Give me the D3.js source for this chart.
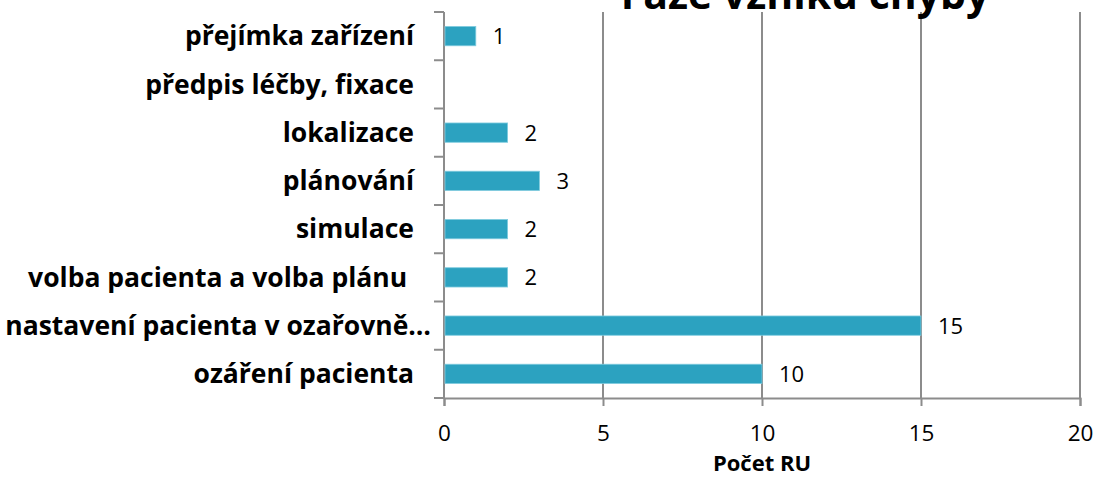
<!DOCTYPE html>
<html>
<head>
<meta charset="utf-8">
<script src="https://cdn.jsdelivr.net/npm/d3@7"></script>
<style>
  body { margin: 0; background: #fff; }
  svg { display: block; }
  .cat { font-family: "Open Sans", sans-serif; font-weight: bold; font-size: 26.5px; fill: #000; }
  .val { font-family: "Open Sans", sans-serif; font-size: 22px; fill: #000; }
  .tick text { font-family: "Open Sans", sans-serif; font-size: 22.5px; fill: #000; }
</style>
</head>
<body>
<div class="chart"></div>
<script>
(function () {

  var CATEGORIES = [
    'přejímka zařízení',
    'předpis léčby, fixace',
    'lokalizace',
    'plánování',
    'simulace',
    'volba pacienta a volba plánu\u00a0',
    'nastavení pacienta v ozařovně…',
    'ozáření pacienta'
  ];
  // no value for "předpis léčby, fixace"
  var VALUES = [1, null, 2, 3, 2, 2, 15, 10];
  var X_TICKS = [0, 5, 10, 15, 20];

  var TITLE = 'Fáze vzniku chyby';
  var X_LABEL = 'Počet RU';

  var W = 1096, H = 478;
  var margin = {top: 12, right: 16, bottom: 80, left: 444};
  var width = W - margin.left - margin.right,
      height = H - margin.top - margin.bottom;

  var svg = d3.select(".chart").append("svg")
    .attr("width", W)
    .attr("height", H);

  var g = svg.append("g")
    .attr("transform", "translate(" + margin.left + "," + margin.top + ")");

  var x = d3.scaleLinear().domain([0, 20]).range([0, width]);
  var y = d3.scaleBand().domain(CATEGORIES).range([0, height])
    .paddingInner(0.6).paddingOuter(0.3);

  var data = CATEGORIES.map(function (c, i) { return {cat: c, value: VALUES[i]}; });

  // vertical grid lines
  g.selectAll(".grid")
    .data(X_TICKS.slice(1))
    .enter().append("line")
    .attr("class", "grid")
    .attr("x1", function (d) { return x(d); })
    .attr("x2", function (d) { return x(d); })
    .attr("y1", 0)
    .attr("y2", height)
    .style("stroke", "#8c8c8c")
    .style("stroke-width", 2);

  // X axis
  var xAxis = d3.axisBottom(x).tickValues(X_TICKS).tickSize(8).tickPadding(19);
  var xg = g.append("g")
    .attr("class", "x axis")
    .attr("transform", "translate(0," + height + ")")
    .call(xAxis);
  xg.select(".domain").style("stroke", "#8c8c8c").style("stroke-width", 2);
  xg.selectAll(".tick line").style("stroke", "#8c8c8c").style("stroke-width", 2);

  // Y axis: line plus ticks at category boundaries
  var step = y.step();
  var edges = CATEGORIES.map(function (c) { return y(c) - (step - y.bandwidth()) / 2; });
  edges.push(height);
  g.append("line")
    .attr("x1", 0).attr("x2", 0)
    .attr("y1", 0).attr("y2", height)
    .style("stroke", "#8c8c8c").style("stroke-width", 2);
  g.selectAll(".ytick")
    .data(edges)
    .enter().append("line")
    .attr("class", "ytick")
    .attr("x1", -10).attr("x2", 0)
    .attr("y1", function (d) { return d; })
    .attr("y2", function (d) { return d; })
    .style("stroke", "#8c8c8c").style("stroke-width", 2);

  // Category labels
  g.selectAll(".cat")
    .data(data)
    .enter().append("text")
    .attr("class", "cat")
    .attr("x", function (d) { return d.cat.slice(-1) === '…' ? -13 : -30; })
    .attr("y", function (d) { return y(d.cat) + y.bandwidth() / 2; })
    .attr("dy", ".35em")
    .style("text-anchor", "end")
    .text(function (d) { return d.cat; });

  // Bars
  var present = data.filter(function (d) { return d.value != null; });
  g.selectAll(".bar")
    .data(present)
    .enter().append("rect")
    .attr("class", "bar")
    .attr("x", x(0) + 1)
    .attr("y", function (d) { return y(d.cat); })
    .attr("width", function (d) { return x(d.value) - x(0) - 1; })
    .attr("height", y.bandwidth())
    .style("fill", "#2ca2c0")
    .style("stroke", "#7fcbde")
    .style("stroke-width", 0.8);

  // Value labels
  g.selectAll(".val")
    .data(present)
    .enter().append("text")
    .attr("class", "val")
    .attr("x", function (d) { return x(d.value) + 17; })
    .attr("y", function (d) { return y(d.cat) + y.bandwidth() / 2; })
    .attr("dy", ".36em")
    .text(function (d) { return d.value; });

  // Axis title
  svg.append("text")
    .attr("x", margin.left + x(10))
    .attr("y", 471)
    .style("font-family", "'Open Sans', sans-serif")
    .style("font-weight", "bold")
    .style("font-size", "22px")
    .style("text-anchor", "middle")
    .text(X_LABEL);

  // Chart title (cut off at the top, as in the source image)
  svg.append("text")
    .attr("x", 805)
    .attr("y", 9)
    .style("font-family", "'Open Sans', sans-serif")
    .style("font-weight", "bold")
    .style("font-size", "41px")
    .style("text-anchor", "middle")
    .text(TITLE);
})();
</script>
</body>
</html>
